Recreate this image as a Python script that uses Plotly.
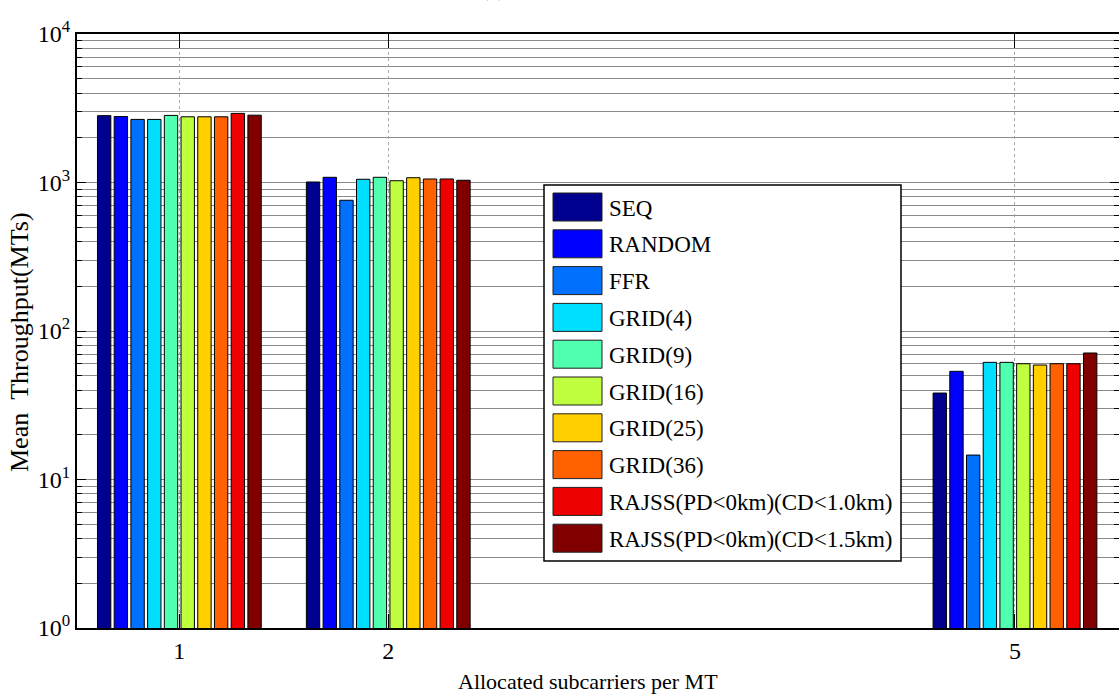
import plotly.graph_objects as go

# Allocated subcarriers per MT
subcarriers = [1, 2, 5]

# Mean throughput (MTs) per scheme, one value per subcarrier allocation
seq = [2820, 1008, 38.2]
random_ = [2780, 1084, 53.5]
ffr = [2660, 759, 14.6]
grid4 = [2660, 1051, 61.5]
grid9 = [2830, 1084, 61.5]
grid16 = [2770, 1028, 60.2]
grid25 = [2770, 1077, 59.0]
grid36 = [2770, 1056, 60.2]
rajss_10 = [2920, 1056, 60.2]
rajss_15 = [2840, 1035, 71.1]

series_names = [
    "SEQ", "RANDOM", "FFR", "GRID(4)", "GRID(9)", "GRID(16)", "GRID(25)",
    "GRID(36)", "RAJSS(PD<0km)(CD<1.0km)", "RAJSS(PD<0km)(CD<1.5km)",
]
series_values = [seq, random_, ffr, grid4, grid9, grid16, grid25, grid36,
                 rajss_10, rajss_15]
# jet colormap samples
colors = ["#00008F", "#0000FF", "#0070FF", "#00DFFF", "#50FFAF",
          "#BFFF40", "#FFCF00", "#FF6000", "#EF0000", "#800000"]

x_ticks = [1, 2, 5]
y_ticks = [1, 10, 100, 1000, 10000]
y_ticktext = ["10<sup>0</sup>", "10<sup>1</sup>", "10<sup>2</sup>",
              "10<sup>3</sup>", "10<sup>4</sup>"]

W, H = 1119, 695
ML, MR, MT, MB = 77, 0, 34, 67
PW, PH = W - ML - MR, H - MT - MB

FONT = "Liberation Serif"


def px(x):
    return (x - ML) / PW


def py(y):
    return (H - MB - y) / PH


fig = go.Figure()
for name, vals, col in zip(series_names, series_values, colors):
    fig.add_trace(go.Bar(
        x=subcarriers, y=vals, name=name,
        marker=dict(color=col, line=dict(color="black", width=1)),
        showlegend=False,
    ))

# Legend box drawn as shapes and text
shapes = []
annotations = []
box_l, box_t, box_r, box_b = 544, 185, 901, 561
shapes.append(dict(type="rect", xref="paper", yref="paper",
                   x0=px(box_l), x1=px(box_r), y0=py(box_b), y1=py(box_t),
                   line=dict(color="black", width=1.5), fillcolor="white",
                   layer="above"))
row0, pitch = 193, 36.8
sw_l, sw_w, sw_h = 553, 49, 28
for i, (name, col) in enumerate(zip(series_names, colors)):
    top = row0 + i * pitch
    shapes.append(dict(type="rect", xref="paper", yref="paper",
                       x0=px(sw_l), x1=px(sw_l + sw_w),
                       y0=py(top + sw_h), y1=py(top),
                       line=dict(color="#202020", width=1), fillcolor=col,
                       layer="above"))
    annotations.append(dict(text=name, xref="paper", yref="paper",
                            x=px(607), y=py(top + sw_h / 2 + 1),
                            xanchor="left", yanchor="middle", showarrow=False,
                            font=dict(family=FONT, size=23, color="black")))

# Axis titles and panel label
annotations.append(dict(text="Allocated subcarriers per MT", xref="paper",
                        yref="paper", x=px(588), y=py(681), xanchor="center",
                        yanchor="middle", showarrow=False,
                        font=dict(family=FONT, size=22, color="black")))
annotations.append(dict(text="Mean\u00a0\u00a0Throughput(MTs)", xref="paper",
                        yref="paper", x=px(19), y=py(342), xanchor="center",
                        yanchor="middle", showarrow=False, textangle=-90,
                        font=dict(family=FONT, size=26, color="black")))
annotations.append(dict(text="(a)", xref="paper", yref="paper",
                        x=px(493), y=py(3), xanchor="center",
                        yanchor="bottom", showarrow=False,
                        font=dict(family=FONT, size=22, color="black")))

fig.update_layout(
    width=W, height=H,
    margin=dict(l=ML, r=MR, t=MT, b=MB, autoexpand=False),
    paper_bgcolor="white", plot_bgcolor="white",
    barmode="group", bargap=0.2, bargroupgap=0.2,
    font=dict(family=FONT, size=22, color="black"),
    shapes=shapes, annotations=annotations,
    xaxis=dict(
        range=[0.51, 5.498], tickvals=x_ticks, ticktext=[str(v) for v in x_ticks],
        ticks="inside", ticklen=14, tickcolor="black", tickwidth=1,
        showline=True, linecolor="black", linewidth=2, mirror="ticks",
        showgrid=True, gridcolor="#a8a8a8", griddash="dot", gridwidth=1,
        zeroline=False, tickfont=dict(family=FONT, size=24),
    ),
    yaxis=dict(
        type="log", range=[0, 4], tickvals=y_ticks, ticktext=y_ticktext,
        ticks="inside", ticklen=9, tickcolor="black", tickwidth=1,
        showline=True, linecolor="black", linewidth=2, mirror="ticks",
        showgrid=True, gridcolor="#8a8a8a", gridwidth=1.2,
        zeroline=False, tickfont=dict(family=FONT, size=24),
        minor=dict(ticks="inside", ticklen=5, tickcolor="black",
                   showgrid=True, gridcolor="#8a8a8a", gridwidth=1.2,
                   dtick="D1"),
    ),
)

fig.write_html("out.html")
